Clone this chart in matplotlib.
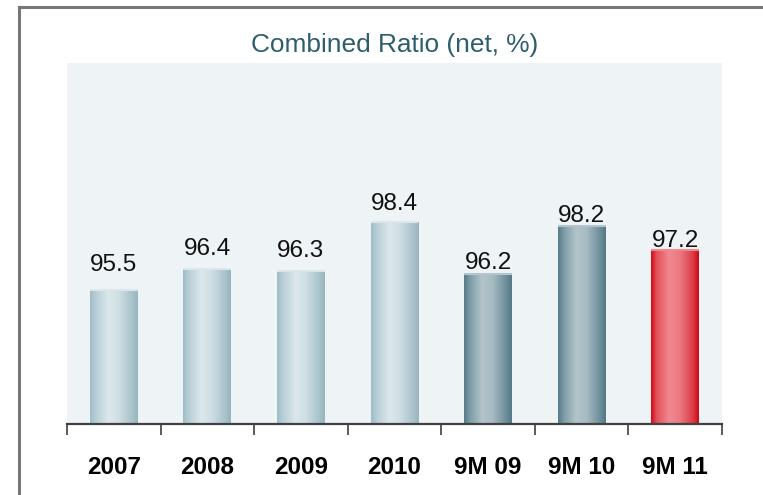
import numpy as np
import matplotlib.pyplot as plt
from matplotlib.colors import LinearSegmentedColormap
from matplotlib.lines import Line2D

plt.rcParams['font.family'] = ['Liberation Sans', 'DejaVu Sans']

# data
periods = ['2007', '2008', '2009', '2010', '9M 09', '9M 10', '9M 11']
combined_ratio = [95.5, 96.4, 96.3, 98.4, 96.2, 98.2, 97.2]
bar_style = ['light', 'light', 'light', 'light', 'dark', 'dark', 'red']
label_gap = [13.5, 10, 10.5, 8.5, 3, 3, 2.2]  # points between bar top and label baseline

# horizontal gradient colours for the cylinder look
grads = {
    'light': ['#9fbcc6', '#b7ced6', '#dbe7eb', '#cfdfe4', '#a9c2cb', '#98b4be'],
    'dark':  ['#557a88', '#7d9ba6', '#b3c5cb', '#a6bac1', '#6d8e9a', '#547886'],
    'red':   ['#d10a16', '#e4525b', '#f08890', '#ea7a82', '#dc3b45', '#cf0714'],
}
stops = [0.0, 0.12, 0.38, 0.6, 0.88, 1.0]

ymin, ymax = 89.8, 105.15

fig = plt.figure(figsize=(7.63, 4.95), dpi=100)
ax = fig.add_axes([0.0878, 0.1434, 0.8585, 0.7293])
ax.set_facecolor('#eef3f6')

x = np.arange(len(periods))
bars = ax.bar(x, np.array(combined_ratio) - ymin, bottom=ymin, width=0.51,
              color='none', edgecolor='none')

for b, st, v, gap in zip(bars, bar_style, combined_ratio, label_gap):
    cmap = LinearSegmentedColormap.from_list(st, list(zip(stops, grads[st])))
    grad = np.linspace(0, 1, 256).reshape(1, -1)
    x0, w = b.get_x(), b.get_width()
    im = ax.imshow(grad, cmap=cmap, aspect='auto', zorder=2,
                   extent=[x0, x0 + w, ymin, v])
    im.set_clip_path(b)
    # thin lighter cap on top
    ax.plot([x0, x0 + w], [v, v], color=grads[st][2], lw=1.5, zorder=3,
            solid_capstyle='butt')
    ax.annotate(f'{v:.1f}', (x0 + w / 2, v), xytext=(0, gap),
                textcoords='offset points', ha='center', va='baseline',
                fontsize=17.5, color='#111111')

ax.set_xlim(-0.5, len(periods) - 0.5)
ax.set_ylim(ymin, ymax)

for s in ['top', 'right', 'left']:
    ax.spines[s].set_visible(False)
ax.spines['bottom'].set_color('#404040')
ax.spines['bottom'].set_linewidth(1.6)
ax.set_yticks([])

ax.set_xticks(x)
ax.set_xticklabels(periods, fontsize=17.5, fontweight='bold')
ax.tick_params(axis='x', which='major', length=0, pad=23)
ax.set_xticks(np.arange(-0.5, len(periods)), minor=True)
ax.tick_params(axis='x', which='minor', length=8, width=1.2,
               color='#404040', direction='out')

fig.text(0.517, 0.895, 'Combined Ratio (net, %)', ha='center', va='baseline',
         fontsize=18.9, color='#2e5e6e')

# frame of the original slide (only top and left edges visible)
fig.add_artist(Line2D([0.0255, 1.0], [0.985, 0.985], color='#777777',
                      lw=2.2, transform=fig.transFigure))
fig.add_artist(Line2D([0.0255, 0.0255], [0.0, 0.985], color='#777777',
                      lw=2.2, transform=fig.transFigure))

fig.savefig('out.png', dpi=100)
